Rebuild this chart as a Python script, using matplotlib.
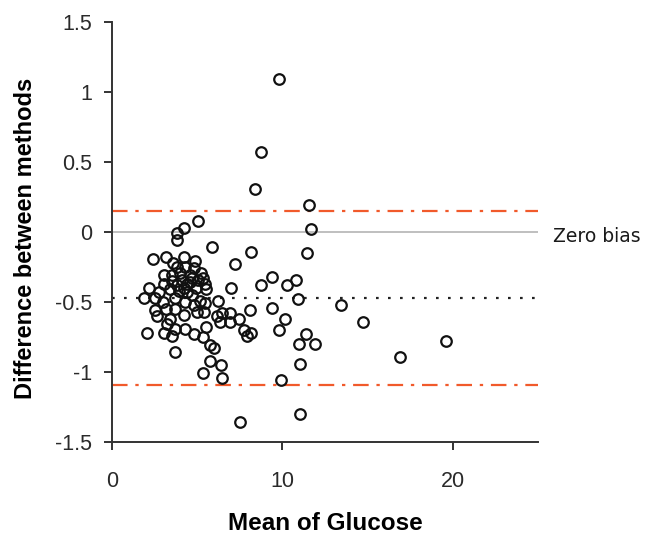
import numpy as np
import matplotlib
matplotlib.use("Agg")
import matplotlib.pyplot as plt

# mean glucose of the two methods, and the difference between them
glucose_mean = [
    9.8, 8.75, 8.4, 11.55, 11.7, 5.05, 4.2, 3.8, 3.8, 5.85,
    8.15, 11.45, 2.4, 3.15, 4.2, 4.85, 3.6, 7.2, 3.8, 4.3,
    4.8, 3.05, 3.5, 4.0, 4.55, 5.2, 5.35, 5.05, 4.1, 3.55,
    3.05, 4.4, 5.45, 9.4, 10.8, 8.75, 10.25, 2.15, 2.75, 3.4,
    3.95, 4.4, 4.95, 5.5, 4.7, 7.0, 1.9, 2.5, 3.0, 3.7,
    4.3, 5.15, 5.45, 6.2, 10.9, 13.45, 4.8, 9.4, 8.1, 2.5,
    3.15, 3.7, 5.0, 5.4, 2.65, 3.4, 4.2, 6.15, 6.45, 6.9,
    7.45, 10.15, 6.9, 6.35, 14.75, 3.2, 5.5, 2.05, 3.05, 3.55,
    3.7, 4.3, 4.8, 5.35, 7.75, 8.15, 7.9, 9.8, 11.4, 10.95,
    11.9, 5.75, 6.0, 3.7, 16.9, 19.6, 5.75, 6.4, 11.05, 5.35,
    6.45, 9.9, 11.05, 7.5, 4.6, 4.2, 3.8, 4.7,
]
difference = [
    1.09, 0.57, 0.31, 0.19, 0.02, 0.08, 0.03, -0.01, -0.06, -0.11,
    -0.14, -0.15, -0.19, -0.18, -0.18, -0.21, -0.22, -0.23, -0.25, -0.25,
    -0.26, -0.31, -0.31, -0.29, -0.31, -0.29, -0.33, -0.34, -0.34, -0.35,
    -0.37, -0.37, -0.37, -0.32, -0.34, -0.38, -0.38, -0.40, -0.43, -0.41,
    -0.42, -0.43, -0.40, -0.41, -0.45, -0.40, -0.47, -0.47, -0.50, -0.47,
    -0.50, -0.49, -0.51, -0.49, -0.48, -0.52, -0.52, -0.54, -0.56, -0.56,
    -0.55, -0.55, -0.57, -0.57, -0.60, -0.62, -0.59, -0.60, -0.58, -0.58,
    -0.62, -0.62, -0.64, -0.64, -0.64, -0.66, -0.68, -0.72, -0.72, -0.74,
    -0.69, -0.69, -0.73, -0.75, -0.70, -0.72, -0.74, -0.70, -0.73, -0.80,
    -0.80, -0.81, -0.83, -0.855, -0.89, -0.78, -0.92, -0.95, -0.94, -1.01,
    -1.04, -1.06, -1.30, -1.36, -0.36, -0.40, -0.38, -0.33,
]

bias = -0.47
upper_loa = 0.15
lower_loa = -1.09

xticks = [0, 10, 20]
yticks = [-1.5, -1, -0.5, 0, 0.5, 1, 1.5]
ytick_labels = ["-1.5", "-1", "-0.5", "0", "0.5", "1", "1.5"]

plt.rcParams['font.family'] = ['Liberation Sans', 'DejaVu Sans']

fig = plt.figure(figsize=(6.61, 5.35), dpi=100)
ax = fig.add_axes([0.1694, 0.1738, 0.6445, 0.7851])

loa_style = (0, (7, 3.5, 1.5, 3.5))
ax.axhline(0, color='#b4b4b4', lw=1.2, zorder=1)
ax.axhline(upper_loa, color='#f15a2b', lw=1.6, linestyle=loa_style, zorder=1)
ax.axhline(lower_loa, color='#f15a2b', lw=1.6, linestyle=loa_style, zorder=1)
ax.axhline(bias, color='#222222', lw=1.6, linestyle=(0, (1.2, 4.2)), zorder=1)

ax.plot(glucose_mean, difference, 'o', markersize=7.6, markerfacecolor='none',
        markeredgecolor='#111111', markeredgewidth=1.6, zorder=3)

ax.set_xlim(0, 25)
ax.set_ylim(-1.5, 1.5)
ax.set_xticks(xticks)
ax.set_yticks(yticks)
ax.set_yticklabels(ytick_labels)

for side in ['top', 'right']:
    ax.spines[side].set_visible(False)
for side in ['left', 'bottom']:
    ax.spines[side].set_color('#333333')
    ax.spines[side].set_linewidth(1.4)
ax.tick_params(axis='both', direction='out', length=6, width=1.4, color='#333333',
               labelsize=15.5, labelcolor='#2a2a2a')
ax.tick_params(axis='y', pad=8.5)
ax.tick_params(axis='x', pad=15)

ax.set_xlabel('Mean of Glucose', fontsize=17.5, fontweight='bold', labelpad=14)
ax.set_ylabel('Difference between methods', fontsize=17, fontweight='bold')
ax.yaxis.set_label_coords(-0.175, 0.485)

ax.text(25.9, -0.035, 'Zero bias', fontsize=13.5, family='DejaVu Sans', va='center',
        ha='left', color='#1a1a1a')

fig.savefig('out.png', dpi=100)
